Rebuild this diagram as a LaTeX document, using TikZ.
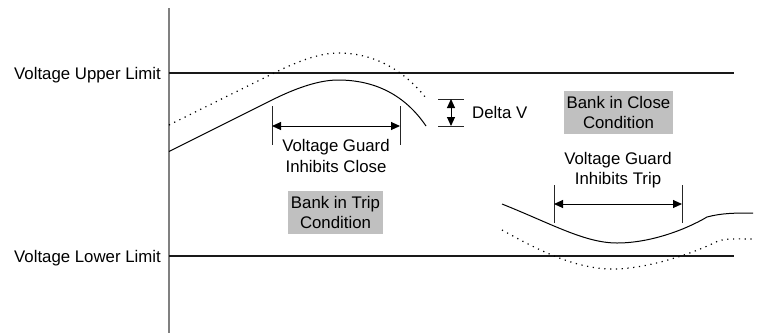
\documentclass[tikz,border=0pt]{standalone}
\usepackage{fontspec}
\setmainfont{Liberation Sans}
\usetikzlibrary{arrows.meta}

\definecolor{bankgray}{HTML}{C0C0C0}
\tikzset{
    limit/.style={line width=1.2pt, black!90},
    trace/.style={line width=1pt},
    shifted/.style={line width=1.2pt, dash pattern=on 1.2pt off 4.6pt},
    tick/.style={line width=1pt, black!85},
    span/.style={line width=1pt, {Triangle[length=9pt,width=8pt]}-{Triangle[length=9pt,width=8pt]}},
    bank/.style={fill=bankgray, align=center, inner xsep=2.7pt, inner ysep=0pt, minimum height=43pt},
    note/.style={align=center, inner sep=0pt}
}

\begin{document}
\begin{tikzpicture}[x=1pt, y=-1pt, font=\fontsize{16.8}{20.5}\selectfont]
        \useasboundingbox (0,0) rectangle (773,333);

        % axis and limits
        \draw[line width=1.5pt, gray] (169,8) -- (169,333);
        \draw[limit] (169,73) -- (734,73);
        \draw[limit] (169,256) -- (734,256);
        \node[anchor=base east, inner sep=0pt] (upper) at (161,79) {Voltage Upper Limit};
        \node[anchor=base east, inner sep=0pt] (lower) at (161,262.5) {Voltage Lower Limit};

        % rising voltage, and the same shifted up by Delta V
        \draw[trace] (169,151.5) -- (272,100) .. controls (294,89) and (318,80) .. (338,80)
            .. controls (375,80) and (405,95) .. (426,126);
        \draw[shifted] (169,125) -- (272,74) .. controls (294,63) and (318,53) .. (338,53)
            .. controls (372,53) and (402,68) .. (426,98);

        % falling voltage, and the same shifted down by Delta V
        \draw[trace] (502,204) .. controls (552,224) and (585,243) .. (617,243)
            .. controls (650,243) and (685,230) .. (707,217)
            .. controls (722,213) and (735,213) .. (753,213);
        \draw[shifted] (502,230) .. controls (538,250) and (575,269) .. (613,269)
            .. controls (645,269) and (690,255) .. (718,241)
            .. controls (728,238) and (740,239) .. (753,239);

        % Delta V
        \coordinate (dvtop) at (451,99);
        \coordinate (dvbot) at (451,126);
        \draw[tick] (438,99) -- (464,99);
        \draw[tick] (438,126) -- (464,126);
        \draw[span] (dvtop) -- (dvbot);
        \node[anchor=west, inner sep=0pt] (deltav) at (472,112) {Delta V};

        % guard band on close
        \draw[tick] (272,106) -- (272,145);
        \draw[tick] (400,106) -- (400,145);
        \coordinate (closel) at (272,126);
        \coordinate (closer) at (400,126);
        \draw[span] (closel) -- (closer);
        \node[note] (inhclose) at (336,156) {Voltage Guard\\Inhibits Close};

        % guard band on trip
        \draw[tick] (554,185) -- (554,223);
        \draw[tick] (682,185) -- (682,223);
        \coordinate (tripl) at (554,204);
        \coordinate (tripr) at (682,204);
        \draw[span] (tripl) -- (tripr);
        \node[note] (inhtrip) at (618,170) {Voltage Guard\\Inhibits Trip};

        \node[bank] (bankclose) at (618.5,112.5) {Bank in Close\\Condition};
        \node[bank] (banktrip) at (335.5,212.5) {Bank in Trip\\Condition};
    \end{tikzpicture}
\end{document}
